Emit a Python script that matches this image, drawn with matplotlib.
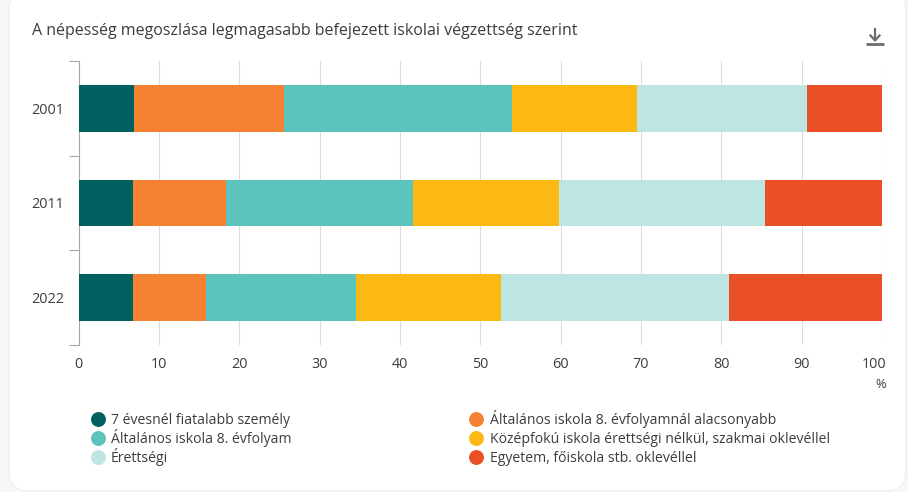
import matplotlib
matplotlib.use("Agg")
import matplotlib.pyplot as plt
from matplotlib.patches import FancyBboxPatch
from matplotlib.transforms import ScaledTranslation
import numpy as np

plt.rcParams["font.family"] = ["Open Sans", "DejaVu Sans"]

W, H = 908, 492

years = ["2001", "2011", "2022"]
labels = [
    "7 évesnél fiatalabb személy",
    "Általános iskola 8. évfolyamnál alacsonyabb",
    "Általános iskola 8. évfolyam",
    "Középfokú iskola érettségi nélkül, szakmai oklevéllel",
    "Érettségi",
    "Egyetem, főiskola stb. oklevéllel",
]
under_7 = [6.9, 6.8, 6.8]
below_8th = [18.7, 11.6, 9.1]
grade_8th = [28.4, 23.2, 18.6]
vocational = [15.5, 18.2, 18.1]
secondary = [21.2, 25.6, 28.3]
university = [9.3, 14.6, 19.1]
series = [under_7, below_8th, grade_8th, vocational, secondary, university]
colors = ["#005f5f", "#f58233", "#5cc4bd", "#fdb913", "#bde5e1", "#ea5025"]

TEXT = "#3c3c3c"
GRID = "#dcdcdc"
AXIS = "#a6a6a6"

fig = plt.figure(figsize=(W / 100, H / 100), dpi=100, facecolor="#f7f7f7")

# white card behind everything
bg = fig.add_axes([0, 0, 1, 1])
bg.set_xlim(0, W)
bg.set_ylim(H, 0)
bg.axis("off")
bg.add_patch(FancyBboxPatch((9 + 20, -10 + 20), 897 - 40, 501 - 40,
                            boxstyle="round,pad=20,rounding_size=20",
                            fc="white", ec="#f0f0f0", lw=1))

ax = fig.add_axes([78.5 / W, 1 - 345 / H, (882 - 78.5) / W, 284 / H])
ax.patch.set_alpha(0)

y = np.arange(len(years))
left = np.zeros(len(years))
for vals, color, label in zip(series, colors, labels):
    ax.barh(y, vals, left=left, height=0.49, color=color, label=label, zorder=3)
    left += np.array(vals)

ax.set_xlim(0, 100)
ax.set_ylim(2.5, -0.5)
ax.set_xticks(range(0, 101, 10))
ax.set_yticks(y)
ax.set_yticklabels(years)
ax.set_yticks([-0.5, 0.5, 1.5, 2.5], minor=True)
ax.grid(axis="x", color=GRID, lw=0.8, zorder=0)
ax.tick_params(axis="x", length=0, pad=8.5, labelsize=10.4, labelcolor=TEXT)
ax.tick_params(axis="y", which="major", length=0, pad=10.5, labelsize=10.4, labelcolor=TEXT)
ax.tick_params(axis="y", which="minor", length=7, width=0.8, color=AXIS)
for name in ["top", "right", "bottom"]:
    ax.spines[name].set_visible(False)
ax.spines["left"].set_color(AXIS)
ax.spines["left"].set_linewidth(0.8)

# the last tick label is pulled in so it stays inside the plot
last = ax.get_xticklabels()[-1]
last.set_transform(last.get_transform() + ScaledTranslation(-8 / 100, 0, fig.dpi_scale_trans))

fig.text(32 / W, 1 - 31 / H, "A népesség megoszlása legmagasabb befejezett iskolai végzettség szerint",
         fontsize=11.53, color=TEXT, va="center", ha="left")
fig.text(886 / W, 1 - 385 / H, "%", fontsize=9.3, color=TEXT, va="center", ha="right")

# download icon
icon = "#6b6b6b"
bg.plot([875, 875], [28, 40], color=icon, lw=1.6, solid_capstyle="butt")
bg.plot([870.5, 875, 879.5], [35.5, 40.5, 35.5], color=icon, lw=1.6)
bg.plot([866, 884], [43.5, 43.5], color=icon, lw=2, solid_capstyle="butt")

# legend laid out by hand, two columns with fixed row pitch
for i, (label, color) in enumerate(zip(labels, colors)):
    col, row = i % 2, i // 2
    lx = 98 + col * 378
    ly = 419 + row * 19
    bg.scatter([lx], [ly], s=115, color=color, linewidths=0)
    bg.text(lx + 13 + col, ly + 5, label, fontsize=10.1, color=TEXT, va="baseline", ha="left")

fig.savefig("out.png", dpi=100, facecolor=fig.get_facecolor())
